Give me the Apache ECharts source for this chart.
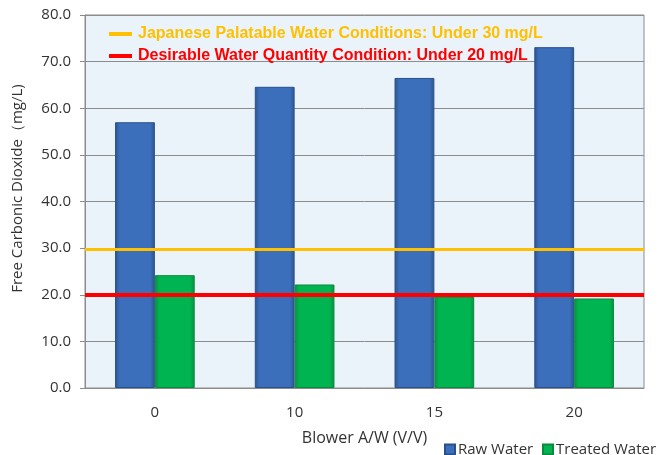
<!DOCTYPE html>
<html>
<head>
<meta charset="utf-8">
<script src="https://cdn.jsdelivr.net/npm/echarts@6/dist/echarts.min.js"></script>
<style>
  html, body { margin: 0; padding: 0; background: #fff; }
  #main { width: 664px; height: 455px; }
</style>
</head>
<body>
<div id="main"></div>
<script>
// blower air/water ratio categories
var categories = ['0', '10', '15', '20']
var rawWater = [57.0, 64.6, 66.5, 73.1]
var treatedWater = [24.2, 22.2, 19.6, 19.2]
// reference limits
var palatableLimit = 29.8
var desirableLimit = 20
var palatableName = 'Japanese Palatable Water Conditions: Under 30 mg/L'
var desirableName = 'Desirable Water Quantity Condition: Under 20 mg/L'

var axisFont = '"Open Sans", "Noto Sans", sans-serif'

function barGrad(edge, mid) {
  return new echarts.graphic.LinearGradient(0, 0, 1, 0, [
    { offset: 0, color: edge },
    { offset: 0.12, color: mid },
    { offset: 0.88, color: mid },
    { offset: 1, color: edge },
  ])
}

// small bottom legend, one per series so it never wraps
function seriesLegend(name, left) {
  return {
    left: left,
    top: 437,
    itemWidth: 10,
    itemHeight: 10,
    icon: 'rect',
    data: [name],
    textStyle: {
      fontFamily: axisFont,
      fontSize: 15,
      color: '#333',
      padding: [0, 0, 0, -2],
    },
  }
}

var chart = echarts.init(document.getElementById('main'))
var option = {
  animation: false,
  grid: {
    left: 85,
    right: 20,
    top: 15,
    bottom: 67,
    show: true,
    backgroundColor: '#eaf3f9',
    borderColor: '#8c8c8c',
    borderWidth: 1,
  },
  legend: [
    {
      orient: 'vertical',
      left: 104,
      top: 21,
      itemWidth: 23,
      itemHeight: 4,
      itemGap: 6,
      icon: 'rect',
      data: [
        { name: palatableName, textStyle: { color: '#ffc000' } },
        { name: desirableName, textStyle: { color: '#ff0000' } },
      ],
      textStyle: {
        fontFamily: 'Arial, "Liberation Sans", sans-serif',
        fontWeight: 'bold',
        fontSize: 16,
        padding: [0, 0, 0, 1],
      },
    },
    seriesLegend('Raw Water', 439),
    seriesLegend('Treated Water', 537),
  ],
  xAxis: {
    type: 'category',
    data: categories,
    name: 'Blower A/W (V/V)',
    nameLocation: 'middle',
    nameGap: 42,
    nameTextStyle: { fontFamily: axisFont, fontSize: 16, color: '#333' },
    axisLine: { lineStyle: { color: '#8c8c8c' } },
    axisTick: { length: 6, lineStyle: { color: '#8c8c8c' } },
    axisLabel: { fontFamily: axisFont, fontSize: 15, color: '#333', margin: 17 },
  },
  yAxis: {
    type: 'value',
    min: 0,
    max: 80,
    interval: 10,
    name: 'Free Carbonic Dioxide（mg/L)',
    nameLocation: 'middle',
    nameGap: 60,
    nameTextStyle: { fontFamily: axisFont, fontSize: 15, color: '#333', padding: [0, 0, 0, 26] },
    axisLine: { show: true, lineStyle: { color: '#8c8c8c' } },
    axisTick: { show: true, length: 5, lineStyle: { color: '#8c8c8c' } },
    axisLabel: {
      fontFamily: axisFont,
      fontSize: 15,
      color: '#333',
      margin: 14,
      formatter: function (v) { return v.toFixed(1) },
    },
    splitLine: { lineStyle: { color: '#8c8c8c' } },
  },
  series: [
    {
      name: 'Raw Water',
      type: 'bar',
      data: rawWater,
      barGap: '0%',
      barCategoryGap: '43%',
      itemStyle: {
        color: barGrad('#2b5491', '#3b6fbb'),
        borderColor: '#28508a',
        borderWidth: 1,
      },
    },
    {
      name: 'Treated Water',
      type: 'bar',
      data: treatedWater,
      itemStyle: {
        color: barGrad('#079240', '#00b451'),
        borderColor: '#0a8a3c',
        borderWidth: 1,
      },
    },
    {
      name: palatableName,
      type: 'line',
      data: [],
      z: 5,
      color: '#ffc000',
      markLine: {
        silent: true,
        symbol: 'none',
        label: { show: false },
        lineStyle: { color: '#ffc000', width: 3, type: 'solid' },
        data: [{ yAxis: palatableLimit }],
      },
    },
    {
      name: desirableName,
      type: 'line',
      data: [],
      z: 5,
      color: '#ff0000',
      markLine: {
        silent: true,
        symbol: 'none',
        label: { show: false },
        lineStyle: { color: '#ff0000', width: 4, type: 'solid' },
        data: [{ yAxis: desirableLimit }],
      },
    },
  ],
}
chart.setOption(option)
</script>
</body>
</html>
